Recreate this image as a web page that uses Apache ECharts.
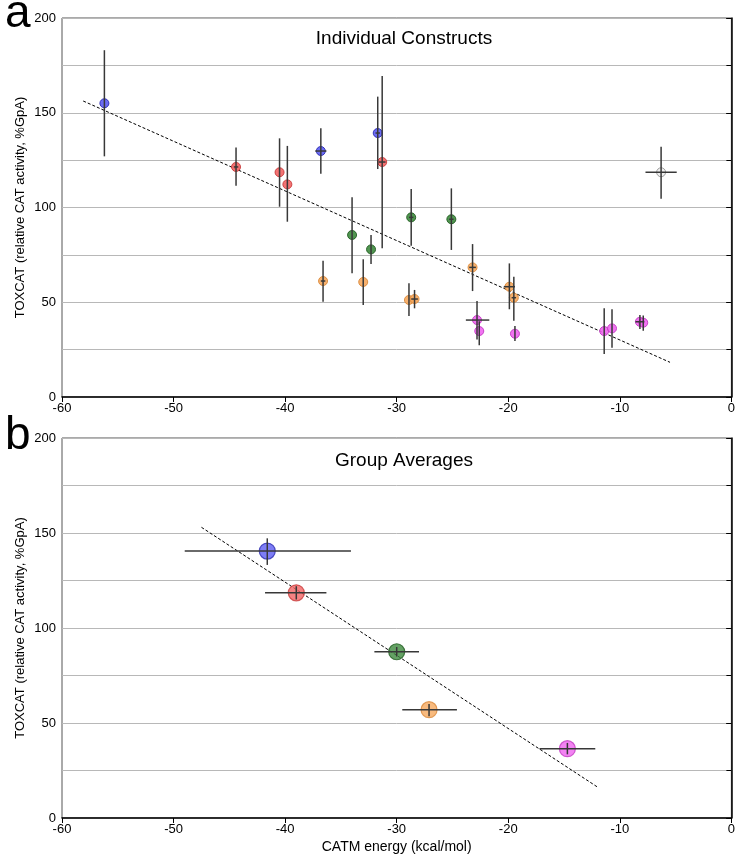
<!DOCTYPE html>
<html><head><meta charset="utf-8">
<script src="https://cdn.jsdelivr.net/npm/echarts@6/dist/echarts.min.js"></script>
<style>html,body{margin:0;padding:0;background:#fff}#c{width:738px;height:858px}</style>
</head><body><div id="c"></div>
<script>
// [x, y, yLow, yHigh, xLow, xHigh]
const blueTop = [[-56.2,155.0,127.0,183.0,-56.2,-56.2],[-36.8,129.8,117.8,141.8,-37.3,-36.3],[-31.7,139.3,120.3,158.5,-31.9,-31.5]];
const redTop = [[-44.4,121.4,111.5,131.6,-44.6,-44.2],[-40.5,118.6,100.4,136.5,-40.5,-40.5],[-39.8,112.2,92.5,132.5,-39.8,-39.8],[-31.3,124.0,78.5,169.4,-31.6,-31.0]];
const greenTop = [[-34.0,85.5,65.3,105.4,-34.0,-34.0],[-32.3,77.9,70.2,85.5,-32.3,-32.3],[-28.7,94.8,79.8,109.8,-28.9,-28.5],[-25.1,93.8,77.6,110.1,-25.3,-24.9]];
const orangeTop = [[-36.6,61.2,50.3,71.9,-36.8,-36.4],[-33.0,60.7,48.5,72.7,-33.0,-33.0],[-28.9,51.2,42.7,60.0,-28.9,-28.9],[-28.4,51.7,46.8,56.5,-28.7,-28.1],[-23.2,68.4,55.9,80.7,-23.5,-22.9],[-19.9,58.2,46.3,70.5,-20.4,-19.4],[-19.5,52.4,40.3,63.5,-19.7,-19.3]];
const magentaTop = [[-22.8,40.6,30.4,50.7,-23.8,-21.7],[-22.6,34.8,27.3,40.0,-22.6,-22.6],[-19.4,33.4,29.6,37.5,-19.4,-19.4],[-11.4,34.8,22.7,46.8,-11.4,-11.4],[-10.7,36.2,26.0,46.3,-10.7,-10.7],[-8.2,39.7,35.9,43.3,-8.6,-7.8],[-7.9,39.2,35.0,43.0,-7.9,-7.9]];
const blackTop = [[-6.3,118.6,104.6,132.1,-7.7,-4.9]];
const trendTopX = [-58.1, -5.5];
const trendTopY = [156.2, 18.3];

const groupX = [-41.6, -39.0, -30.0, -27.1, -14.7];
const groupY = [140.5, 118.5, 87.5, 57.0, 36.5];
const groupXLow = [-49.0, -41.8, -32.0, -29.5, -17.2];
const groupXHigh = [-34.1, -36.3, -28.0, -24.6, -12.2];
const groupYLow = [133.2, 115.0, 85.0, 53.5, 33.5];
const groupYHigh = [147.2, 122.0, 90.0, 60.0, 39.5];
const trendBotX = [-47.5, -11.9];
const trendBotY = [153.0, 15.9];

const xTicks = [-60,-50,-40,-30,-20,-10,0];
const yTicks = [0,50,100,150,200];

const fills = ['#5c5cf2','#f26464','#3d8a3d','#f6a95e','#f064f0','#e8e8e8'];
const borders = ['#2a2ab0','#c83a3a','#215c21','#d9883a','#c23ac2','#666666'];
const topGroups = [blueTop, redTop, greenTop, orangeTop, magentaTop, blackTop];

const FONT = 'Liberation Sans, Arial, sans-serif';

function errRender(params, api) {
  const x = api.value(0), y = api.value(1);
  const ylo = api.value(2), yhi = api.value(3), xlo = api.value(4), xhi = api.value(5);
  const ch = [];
  const a = api.coord([x, ylo]), b = api.coord([x, yhi]);
  ch.push({type:'line', shape:{x1:a[0],y1:a[1],x2:b[0],y2:b[1]}, style:{stroke:'#383838', lineWidth:1.5}});
  if (xhi - xlo > 0.01) {
    const c = api.coord([xlo, y]), d = api.coord([xhi, y]);
    ch.push({type:'line', shape:{x1:c[0],y1:c[1],x2:d[0],y2:d[1]}, style:{stroke:'#383838', lineWidth:1.5}});
  }
  return {type:'group', children: ch};
}

function xAxisCfg(idx, withName) {
  return {
    type:'value', gridIndex: idx, min:-60, max:0, interval:10,
    axisLine:{show:true, onZero:false, lineStyle:{color:'#000', width:1.5}},
    axisTick:{show:true, length:5, lineStyle:{color:'#000'}},
    axisLabel:{color:'#000', fontFamily:FONT, fontSize:13, margin:5},
    splitLine:{show:false},
    name: withName ? 'CATM energy (kcal/mol)' : '',
    nameLocation:'middle', nameGap:22,
    nameTextStyle:{color:'#000', fontFamily:FONT, fontSize:14}
  };
}
function yAxisCfg(idx) {
  return {
    type:'value', gridIndex: idx, min:0, max:200, interval:50, splitNumber:4,
    axisLine:{show:true, lineStyle:{color:'#000', width:1.5}},
    axisTick:{show:true, length:5, lineStyle:{color:'#000'}},
    axisLabel:{color:'#000', fontFamily:FONT, fontSize:13, margin:6},
    splitLine:{show:true, lineStyle:{color:'#b8b8b8', width:1}},
    minorTick:{show:false, splitNumber:2},
    minorSplitLine:{show:true, lineStyle:{color:'#b8b8b8', width:1}},
    name:'TOXCAT (relative CAT activity, %GpA)',
    nameLocation:'middle', nameGap:35, nameMoveOverlap:false,
    nameTextStyle:{color:'#000', fontFamily:FONT, fontSize:13}
  };
}
function yRightCfg(idx) {
  return {
    type:'value', gridIndex: idx, position:'right', min:0, max:200, interval:25,
    axisLine:{show:false}, axisLabel:{show:false}, splitLine:{show:false},
    axisTick:{show:true, inside:true, length:5, lineStyle:{color:'#000'}}
  };
}

const series = [];
topGroups.forEach((g, i) => {
  series.push({type:'scatter', xAxisIndex:0, yAxisIndex:0, data: g.map(p => [p[0], p[1]]),
    symbol:'circle', symbolSize:9, z:3,
    itemStyle:{color:fills[i], borderColor:borders[i], borderWidth:1, opacity: i===5 ? 0.6 : 0.9}});
  series.push({type:'custom', xAxisIndex:0, yAxisIndex:0, data: g, renderItem: errRender, z:4,
    encode:{x:0, y:1}});
});
series.push({type:'line', xAxisIndex:0, yAxisIndex:0, data: trendTopX.map((x,i)=>[x, trendTopY[i]]),
  symbol:'none', lineStyle:{color:'#000', width:1, type:[3,2]}, z:2});

groupX.forEach((x, i) => {
  series.push({type:'scatter', xAxisIndex:1, yAxisIndex:2, data:[[x, groupY[i]]],
    symbol:'circle', symbolSize:16, z:3,
    itemStyle:{color:fills[i], borderColor:borders[i], borderWidth:1.2, opacity:0.8}});
});
series.push({type:'custom', xAxisIndex:1, yAxisIndex:2,
  data: groupX.map((x,i)=>[x, groupY[i], groupYLow[i], groupYHigh[i], groupXLow[i], groupXHigh[i]]),
  renderItem: errRender, z:4, encode:{x:0, y:1}});
series.push({type:'line', xAxisIndex:1, yAxisIndex:2, data: trendBotX.map((x,i)=>[x, trendBotY[i]]),
  symbol:'none', lineStyle:{color:'#000', width:1, type:[3,2]}, z:2});

const chart = echarts.init(document.getElementById('c'), null, {renderer:'canvas'});
chart.setOption({
  animation:false,
  backgroundColor:'#fff',
  title:[
    {text:'a', left:0, top:-14, textStyle:{fontFamily:FONT, fontSize:46, fontWeight:'normal', color:'#000'}},
    {text:'Individual Constructs', left:399, top:24, textAlign:'center', textStyle:{fontFamily:FONT, fontSize:19, fontWeight:'normal', color:'#000'}},
    {text:'b', left:0, top:408, textStyle:{fontFamily:FONT, fontSize:46, fontWeight:'normal', color:'#000'}},
    {text:'Group Averages', left:399, top:446, textAlign:'center', textStyle:{fontFamily:FONT, fontSize:19, fontWeight:'normal', color:'#000'}}
  ],
  grid:[
    {left:62, right:3, top:18, height:379, show:true, borderColor:'#555', borderWidth:1, backgroundColor:'transparent'},
    {left:62, right:3, top:438, height:380, show:true, borderColor:'#555', borderWidth:1, backgroundColor:'transparent'}
  ],
  xAxis:[xAxisCfg(0,false), xAxisCfg(1,true)],
  yAxis:[yAxisCfg(0), yRightCfg(0), yAxisCfg(1), yRightCfg(1)],
  series: series
});
</script></body></html>
